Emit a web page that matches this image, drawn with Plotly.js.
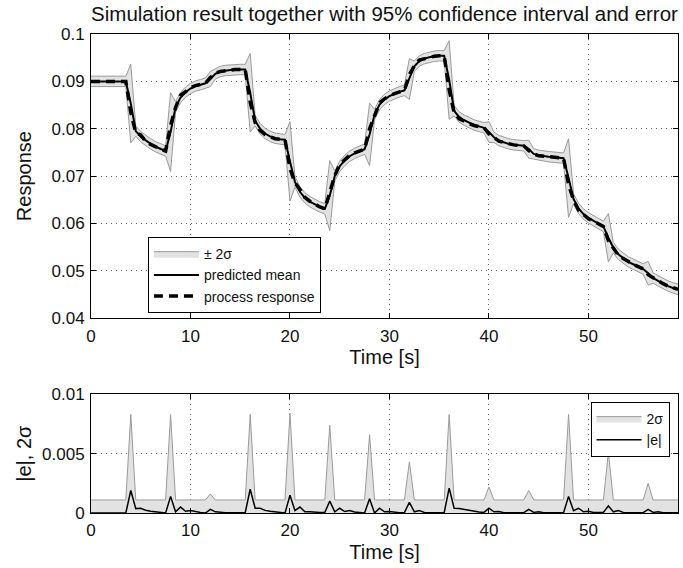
<!DOCTYPE html>
<html>
<head>
<meta charset="utf-8">
<script src="https://cdn.plot.ly/plotly-3.0.1.min.js"></script>
<style>html,body{margin:0;padding:0;background:#fff;}#chart{width:683px;height:568px;}</style>
</head>
<body>
<div id="chart"></div>
<script>
// Time samples [s]
const time = [
  0,0.5,1,1.5,2,2.5,3,3.5, 4,4.5,5,5.5,6,6.5,7,7.5,
  8,8.5,9,9.5,10,10.5,11,11.5, 12,12.5,13,13.5,14,14.5,15,15.5,
  16,16.5,17,17.5,18,18.5,19,19.5, 20,20.5,21,21.5,22,22.5,23,23.5,
  24,24.5,25,25.5,26,26.5,27,27.5, 28,28.5,29,29.5,30,30.5,31,31.5,
  32,32.5,33,33.5,34,34.5,35,35.5, 36,36.5,37,37.5,38,38.5,39,39.5,
  40,40.5,41,41.5,42,42.5,43,43.5, 44,44.5,45,45.5,46,46.5,47,47.5,
  48,48.5,49,49.5,50,50.5,51,51.5, 52,52.5,53,53.5,54,54.5,55,55.5,
  56,56.5,57,57.5,58,58.5,59
];

// Predicted mean
const predictedMean = [
  0.0900,0.0900,0.0900,0.0900,0.0900,0.0900,0.0900,0.0900,
  0.0853,0.0795,0.0783,0.0775,0.0768,0.0762,0.0757,0.0753,
  0.0793,0.0846,0.0866,0.0877,0.0885,0.0890,0.0893,0.0896,
  0.0905,0.0916,0.0921,0.0923,0.0924,0.0925,0.0925,0.0925,
  0.0876,0.0817,0.0800,0.0790,0.0784,0.0780,0.0778,0.0777,
  0.0731,0.0688,0.0667,0.0654,0.0646,0.0640,0.0635,0.0631,
  0.0659,0.0700,0.0721,0.0733,0.0742,0.0748,0.0753,0.0757,
  0.0788,0.0830,0.0851,0.0862,0.0869,0.0874,0.0878,0.0881,
  0.0905,0.0932,0.0943,0.0948,0.0951,0.0953,0.0954,0.0954,
  0.0903,0.0838,0.0825,0.0818,0.0813,0.0808,0.0805,0.0802,
  0.0793,0.0782,0.0775,0.0771,0.0768,0.0766,0.0765,0.0764,
  0.0757,0.0747,0.0744,0.0742,0.0741,0.0740,0.0739,0.0738,
  0.0696,0.0652,0.0632,0.0620,0.0612,0.0606,0.0600,0.0594,
  0.0570,0.0549,0.0535,0.0526,0.0519,0.0514,0.0509,0.0504,
  0.0495,0.0485,0.0479,0.0473,0.0468,0.0464,0.0461
];

// Process response
const processResponse = [
  0.0900,0.0900,0.0900,0.0900,0.0900,0.0900,0.0900,0.0900,
  0.0834,0.0791,0.0787,0.0773,0.0767,0.0761,0.0757,0.0753,
  0.0807,0.0845,0.0871,0.0878,0.0887,0.0891,0.0893,0.0896,
  0.0908,0.0917,0.0921,0.0923,0.0924,0.0925,0.0925,0.0925,
  0.0856,0.0813,0.0796,0.0788,0.0783,0.0779,0.0778,0.0777,
  0.0716,0.0686,0.0672,0.0655,0.0647,0.0640,0.0635,0.0631,
  0.0669,0.0701,0.0725,0.0734,0.0744,0.0749,0.0753,0.0757,
  0.0800,0.0830,0.0855,0.0863,0.0870,0.0874,0.0878,0.0881,
  0.0914,0.0933,0.0945,0.0948,0.0951,0.0953,0.0954,0.0954,
  0.0882,0.0834,0.0821,0.0815,0.0811,0.0807,0.0804,0.0802,
  0.0789,0.0781,0.0774,0.0771,0.0768,0.0766,0.0765,0.0764,
  0.0754,0.0747,0.0743,0.0742,0.0741,0.0740,0.0739,0.0738,
  0.0682,0.0650,0.0628,0.0619,0.0610,0.0605,0.0600,0.0594,
  0.0564,0.0548,0.0533,0.0526,0.0519,0.0514,0.0509,0.0504,
  0.0492,0.0485,0.0478,0.0473,0.0468,0.0464,0.0461
];

// 2 sigma (half-width of the 95% interval)
const twoSigma = [
  0.0011,0.0011,0.0011,0.0011,0.0011,0.0011,0.0011,0.0011,
  0.0083,0.0011,0.0011,0.0011,0.0011,0.0011,0.0011,0.0011,
  0.0083,0.0011,0.0011,0.0011,0.0011,0.0011,0.0011,0.0011,
  0.0016,0.0011,0.0011,0.0011,0.0011,0.0011,0.0011,0.0011,
  0.0083,0.0011,0.0011,0.0011,0.0011,0.0011,0.0011,0.0011,
  0.0084,0.0011,0.0011,0.0011,0.0011,0.0011,0.0011,0.0011,
  0.0074,0.0011,0.0011,0.0011,0.0011,0.0011,0.0011,0.0011,
  0.0066,0.0011,0.0011,0.0011,0.0011,0.0011,0.0011,0.0011,
  0.0043,0.0011,0.0011,0.0011,0.0011,0.0011,0.0011,0.0011,
  0.0083,0.0011,0.0011,0.0011,0.0011,0.0011,0.0011,0.0011,
  0.0022,0.0011,0.0011,0.0011,0.0011,0.0011,0.0011,0.0011,
  0.0019,0.0011,0.0011,0.0011,0.0011,0.0011,0.0011,0.0011,
  0.0083,0.0011,0.0011,0.0011,0.0011,0.0011,0.0011,0.0011,
  0.0051,0.0011,0.0011,0.0011,0.0011,0.0011,0.0011,0.0011,
  0.0025,0.0011,0.0011,0.0011,0.0011,0.0011,0.0011
];

// |e| absolute prediction error
const absError = [
  0,0,0,0,0,0,0,0,
  0.0019,0.00037,0.0004,0.00023,0.00015,0.0001,0.00005,0,
  0.0014,0.0001,0.0005,0.00015,0.0002,0.0001,0.00005,0,
  0.0003,0.0001,0.00005,0.00003,0.00003,0.00003,0.00003,0.00003,
  0.0020,0.0004,0.0004,0.00022,0.00015,0.0001,0.00005,0,
  0.0015,0.0002,0.0005,0.0001,0.0001,0.00005,0.00005,0.00005,
  0.0010,0.0001,0.0004,0.00012,0.0002,0.00008,0.00005,0,
  0.0012,0,0.0004,0.0001,0.00012,0.00005,0.00003,0.00003,
  0.0009,0.0001,0.0002,0.00005,0.00003,0.00003,0.00003,0.00003,
  0.0021,0.0004,0.00038,0.0003,0.0002,0.0001,0.00008,0.00005,
  0.0004,0.0001,0.00012,0.00003,0.00003,0.00003,0.00003,0.00003,
  0.0003,0.00005,0.0001,0.00003,0.00003,0.00003,0.00003,0.00003,
  0.0014,0.0002,0.0004,0.0001,0.00015,0.00005,0.00005,0.00005,
  0.0006,0.0001,0.0002,0.00005,0.00003,0.00003,0.00003,0.00003,
  0.0003,0.00005,0.0001,0.00003,0.00003,0.00003,0.00003
];

const titleText = 'Simulation result together with 95% confidence interval and error';
const xLabel = 'Time [s]';
const yLabelTop = 'Response';
const yLabelBottom = '|e|, 2σ';

const lower = predictedMean.map((m, i) => m - twoSigma[i]);
const upper = predictedMean.map((m, i) => m + twoSigma[i]);

const FONT = '"Liberation Sans", Arial, Helvetica, sans-serif';
const bandFill = '#e2e2e2';
const bandEdge = '#9a9a9a';

const traces = [
  {x: time, y: lower, type: 'scatter', mode: 'lines', line: {color: bandEdge, width: 1},
   showlegend: false, hoverinfo: 'skip', xaxis: 'x', yaxis: 'y'},
  {x: time, y: upper, type: 'scatter', mode: 'lines', fill: 'tonexty', fillcolor: bandFill,
   line: {color: bandEdge, width: 1}, name: '± 2σ', legend: 'legend', xaxis: 'x', yaxis: 'y'},
  {x: time, y: predictedMean, type: 'scatter', mode: 'lines', line: {color: '#000', width: 2},
   name: 'predicted mean', legend: 'legend', xaxis: 'x', yaxis: 'y'},
  {x: time, y: processResponse, type: 'scatter', mode: 'lines', line: {color: '#000', width: 3.5, dash: '9px,6px'},
   name: 'process response', legend: 'legend', xaxis: 'x', yaxis: 'y'},
  {x: time, y: twoSigma, type: 'scatter', mode: 'lines', fill: 'tozeroy', fillcolor: bandFill,
   line: {color: bandEdge, width: 1}, name: '2σ', legend: 'legend2', xaxis: 'x2', yaxis: 'y2'},
  {x: time, y: absError, type: 'scatter', mode: 'lines', line: {color: '#000', width: 1.5},
   name: '|e|', legend: 'legend2', xaxis: 'x2', yaxis: 'y2'}
];

const axisCommon = {
  showline: true, linecolor: '#000', linewidth: 1, mirror: 'ticks',
  ticks: 'inside', ticklen: 5, tickcolor: '#000', tickwidth: 1,
  showgrid: true, gridcolor: '#666', gridwidth: 1, griddash: '1px,4px',
  zeroline: false, tickfont: {family: FONT, size: 17, color: '#111'},
  ticklabelstandoff: 2, automargin: false
};
const axisTitleFont = {family: FONT, size: 20, color: '#111'};

const layout = {
  width: 683, height: 568,
  margin: {l: 91, r: 5, t: 34, b: 55},
  paper_bgcolor: '#fff', plot_bgcolor: '#fff',
  font: {family: FONT, color: '#111'},
  title: {text: titleText, font: {family: FONT, size: 20.5, color: '#111'},
          x: 0.5, xref: 'paper', xanchor: 'center', y: 0.976, yref: 'container', yanchor: 'middle'},
  xaxis: Object.assign({}, axisCommon, {range: [0, 59], dtick: 10, tick0: 0, anchor: 'y',
    title: {text: xLabel, font: axisTitleFont, standoff: 5}}),
  yaxis: Object.assign({}, axisCommon, {range: [0.04, 0.1], dtick: 0.01, tick0: 0.04, domain: [0.4065, 1], anchor: 'x',
    title: {text: yLabelTop, font: axisTitleFont, standoff: 14}}),
  xaxis2: Object.assign({}, axisCommon, {range: [0, 59], dtick: 10, tick0: 0, anchor: 'y2',
    title: {text: xLabel, font: axisTitleFont, standoff: 5}}),
  yaxis2: Object.assign({}, axisCommon, {range: [0, 0.01], dtick: 0.005, tick0: 0, domain: [0, 0.2478], anchor: 'x2',
    title: {text: yLabelBottom, font: axisTitleFont, standoff: 5}}),
  legend: {x: 0.097, xanchor: 'left', y: 0.576, yanchor: 'top', bgcolor: '#fff',
    bordercolor: '#000', borderwidth: 1, font: {family: FONT, size: 14, color: '#111'},
    itemwidth: 45, tracegroupgap: 0, traceorder: 'normal'},
  legend2: {x: 0.851, xanchor: 'left', y: 0.2317, yanchor: 'top', bgcolor: '#fff',
    bordercolor: '#000', borderwidth: 1, font: {family: FONT, size: 14, color: '#111'},
    itemwidth: 45, tracegroupgap: 0, traceorder: 'normal'},
  showlegend: true
};

Plotly.newPlot('chart', traces, layout, {displayModeBar: false, staticPlot: true});
</script>
</body>
</html>
